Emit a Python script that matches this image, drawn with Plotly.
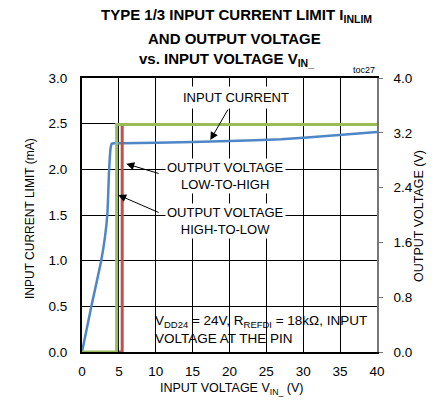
import plotly.graph_objects as go

# Data
vin_current = [0, 1.27, 2.6, 3.1, 3.43, 3.68, 3.86, 4.02, 4.5, 10, 20, 27, 34, 40]
i_current = [0, 0.5, 1.0, 1.25, 1.5, 2.0, 2.22, 2.28, 2.285, 2.29, 2.31, 2.33, 2.37, 2.41]

vin_low_high = [4.7, 5.45, 5.45, 40]
vout_low_high = [0, 0, 3.32, 3.32]

vin_high_low = [0, 4.7, 4.7, 40]
vout_high_low = [0, 0, 3.32, 3.32]

x_ticks = [0, 5, 10, 15, 20, 25, 30, 35, 40]
y_ticks = [0.0, 0.5, 1.0, 1.5, 2.0, 2.5, 3.0]
y2_ticks = [0.0, 0.8, 1.6, 2.4, 3.2, 4.0]

FONT = "Liberation Sans, Arial, sans-serif"
BLUE = "#4f86c6"
GREEN = "#9bbb59"
RED = "#c0504d"

fig = go.Figure()
fig.add_trace(go.Scatter(x=vin_low_high, y=vout_low_high, yaxis="y2", mode="lines",
                         line=dict(color=RED, width=3), showlegend=False))
fig.add_trace(go.Scatter(x=vin_high_low, y=vout_high_low, yaxis="y2", mode="lines",
                         line=dict(color=GREEN, width=3), showlegend=False))
fig.add_trace(go.Scatter(x=vin_current, y=i_current, mode="lines",
                         line=dict(color=BLUE, width=2.5, shape="spline", smoothing=0.5),
                         showlegend=False))

L, R, T, B = 82, 59, 78, 52
W, H = 436, 404
pw, ph = W - L - R, H - T - B


def px(X):
    return (X - L) / pw


def py(Y):
    return (H - B - Y) / ph


fig.update_layout(
    width=W, height=H,
    margin=dict(l=L, r=R, t=T, b=B),
    paper_bgcolor="white", plot_bgcolor="white",
    font=dict(family=FONT, size=13.5, color="black"),
    xaxis=dict(range=[0, 40], tickvals=x_ticks, ticktext=[str(v) for v in x_ticks],
               showgrid=True, gridcolor="black", gridwidth=1.3,
               showline=True, linecolor="black", linewidth=2, mirror=True,
               ticks="inside", ticklen=5, tickcolor="black", tickwidth=1.3,
               zeroline=False, ticklabelstandoff=6, tickfont=dict(size=13.5)),
    yaxis=dict(range=[0, 3], tickvals=y_ticks, ticktext=[f"{v:.1f}" for v in y_ticks],
               showgrid=True, gridcolor="black", gridwidth=1.3,
               showline=True, linecolor="black", linewidth=2,
               ticks="", zeroline=False, ticklabelstandoff=10, tickfont=dict(size=13.5)),
    yaxis2=dict(range=[0, 4], tickvals=y2_ticks, ticktext=[f"{v:.1f}" for v in y2_ticks],
                overlaying="y", side="right", showgrid=False,
                showline=True, linecolor="#777777", linewidth=1.5,
                ticks="outside", ticklen=4, tickcolor="#777777", tickwidth=1,
                zeroline=False, ticklabelstandoff=8, tickfont=dict(size=13.5)),
)

# white box behind bottom note
fig.add_shape(type="rect", xref="paper", yref="paper",
              x0=px(130), x1=px(376), y0=py(350), y1=py(311),
              fillcolor="white", line=dict(width=0), layer="between")

ann = []
# Title
ann.append(dict(text="<b>TYPE 1/3 INPUT CURRENT LIMIT I<sub>INLIM</sub></b>", x=px(236), y=py(16),
                font=dict(size=15)))
ann.append(dict(text="<b>AND OUTPUT VOLTAGE</b>", x=px(234), y=py(39), font=dict(size=15)))
ann.append(dict(text="<b>vs. INPUT VOLTAGE V<sub>IN_</sub></b>", x=px(226), y=py(60), font=dict(size=15)))
ann.append(dict(text="toc27", x=px(377), y=py(70), xanchor="right", font=dict(size=9)))
# Axis titles
ann.append(dict(text="INPUT VOLTAGE V<sub>IN_</sub> (V)", x=px(232), y=py(389), font=dict(size=12.5)))
ann.append(dict(text="INPUT CURRENT LIMIT (mA)", x=px(30), y=py(219), textangle=-90, font=dict(size=12)))
ann.append(dict(text="OUTPUT VOLTAGE (V)", x=px(419), y=py(216), textangle=-90, font=dict(size=12.5)))
# Curve labels
ann.append(dict(text="INPUT CURRENT", x=px(236), y=py(97), bgcolor="white", borderpad=3,
                font=dict(size=13)))
ann.append(dict(text="OUTPUT VOLTAGE<br>LOW-TO-HIGH", x=px(225), y=py(176), bgcolor="white", borderpad=1,
                font=dict(size=13)))
ann.append(dict(text="OUTPUT VOLTAGE<br>HIGH-TO-LOW", x=px(225), y=py(221), bgcolor="white", borderpad=1,
                font=dict(size=13)))
ann.append(dict(text="V<sub>DD24</sub> = 24V, R<sub>REFDI</sub> = 18kΩ, INPUT<br>VOLTAGE AT THE PIN",
                x=px(153), y=py(329), xanchor="left", align="left", font=dict(size=13.5)))

for a in ann:
    a.setdefault("xref", "paper")
    a.setdefault("yref", "paper")
    a.setdefault("showarrow", False)
    a.setdefault("xanchor", "center")
    a.setdefault("yanchor", "middle")
    fig.add_annotation(**a)

# Arrows (tip, tail) in data coordinates
arrows = [((17.4, 2.32), (19.9, 2.67)),
          ((6.0, 2.06), (10.6, 1.95)),
          ((4.9, 1.72), (10.6, 1.52))]
for (tx, ty), (sx, sy) in arrows:
    fig.add_annotation(x=tx, y=ty, ax=sx, ay=sy, xref="x", yref="y", axref="x", ayref="y",
                       text="", showarrow=True, arrowhead=2, arrowsize=1.6, arrowwidth=1,
                       arrowcolor="black")

fig.write_html("out.html", config={"displayModeBar": False},
               post_script="document.body.style.margin='0';")
